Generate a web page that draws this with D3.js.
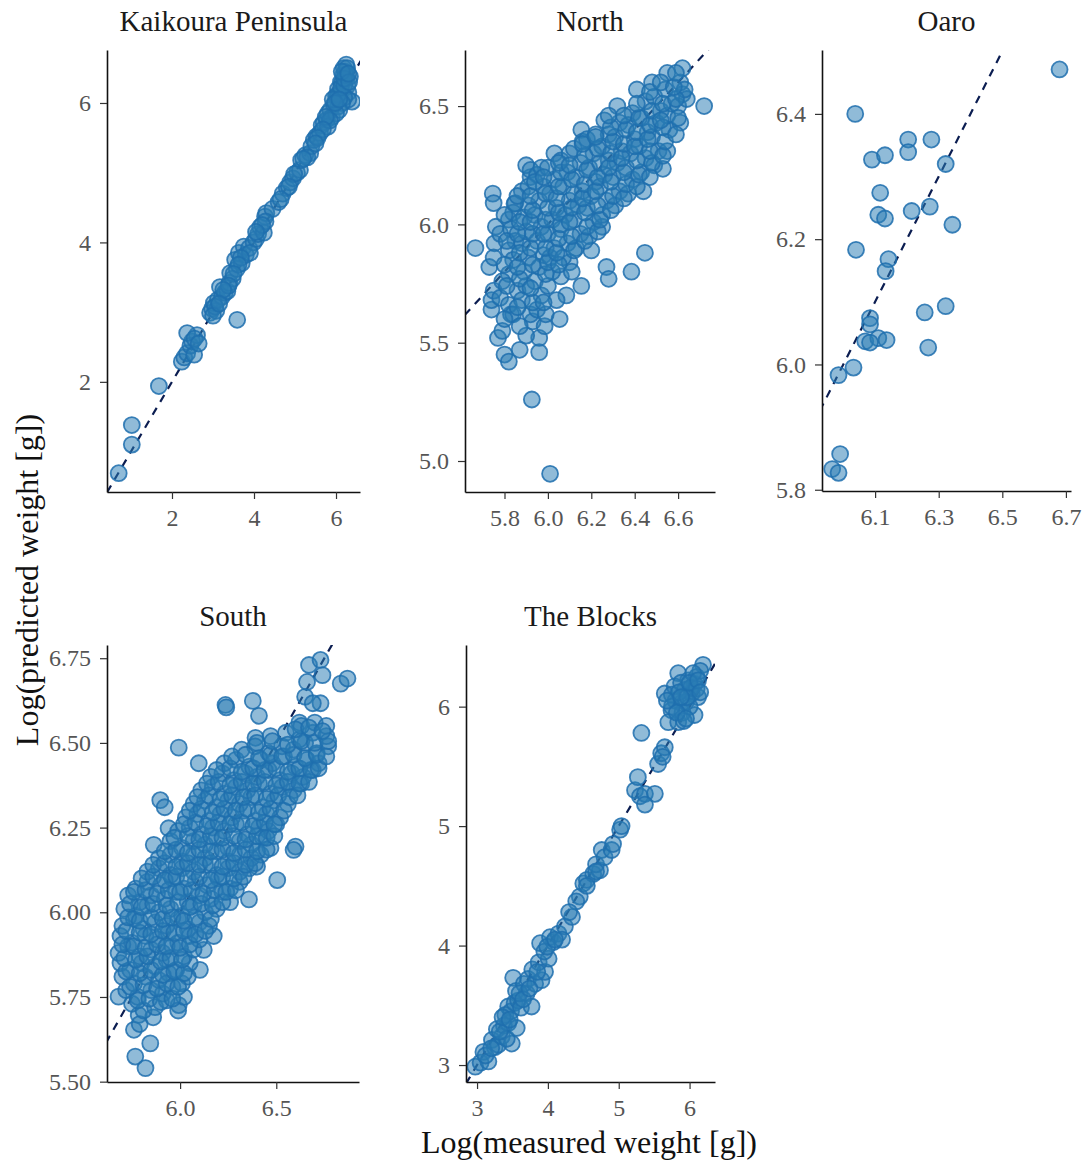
<!DOCTYPE html>
<html>
<head>
<meta charset="utf-8">
<script src="https://cdn.jsdelivr.net/npm/d3@7"></script>
<style>
body { margin: 0; background: #fff; }
text { font-family: "Liberation Serif", "Times New Roman", serif; }
</style>
</head>
<body>
<div id="chart"></div>
<script>
// facet names
var panelNames = ["Kaikoura Peninsula", "North", "Oaro", "South", "The Blocks"];

// [log measured, log predicted]
var kaikouraPts = [
  [0.70,0.69],[1.02,1.10],[1.02,1.38],[1.68,1.94],[2.24,2.29],[2.30,2.35],[2.37,2.41],[2.45,2.52],
  [2.49,2.58],[2.61,2.67],[2.37,2.70],[2.54,2.39],[2.55,2.62],[2.65,2.55],[2.93,2.99],[2.98,3.05],
  [3.02,3.13],[3.08,3.02],[3.12,3.18],[3.17,3.36],[3.22,3.22],[3.29,3.28],[3.35,3.30],[3.40,3.42],
  [3.42,3.56],[3.48,3.48],[3.59,2.89],[3.54,3.75],[3.58,3.62],[3.63,3.85],[3.70,3.70],[3.75,3.94],
  [3.80,3.82],[3.88,3.92],[3.99,4.00],[4.05,4.05],[4.10,4.12],[4.15,4.22],[4.24,4.14],[4.27,4.37],
  [4.30,4.42],[4.45,4.48],[4.60,4.58],[4.70,4.70],[4.80,4.78],[4.88,4.86],[4.95,4.92],[5.05,5.00],
  [5.12,5.04],[5.15,5.18],[5.25,5.25],[5.37,5.28],[5.40,5.38],[5.46,5.47],[5.52,5.52],[5.61,5.57],
  [5.65,5.68],[5.70,5.72],[5.78,5.76],[5.80,5.85],[5.86,5.90],[5.90,5.80],[5.95,5.98],[6.00,6.10],
  [6.03,6.07],[6.05,5.95],[5.80,5.66],[6.05,6.20],[6.10,6.15],[6.12,6.30],[6.15,6.29],[6.18,6.40],
  [6.19,6.50],[6.22,6.45],[6.25,6.35],[6.28,6.25],[6.30,6.15],[6.34,6.38],[6.39,6.02],[6.30,6.05],
  [6.20,6.08],[6.15,6.00],[6.08,5.90],[6.00,5.85],[6.25,6.55],
  [6.05,6.12],[6.12,6.22],[6.20,6.25],[6.24,6.40],[6.27,6.50],[6.20,6.35],[6.14,6.45],[6.32,6.30],
  [6.30,6.42],[5.92,6.05],[5.98,6.00],[6.08,6.05],[5.85,5.75],[5.75,5.80],[5.68,5.62],[5.55,5.50],
  [5.50,5.42],[5.30,5.22],[5.20,5.20],[4.98,4.98],[4.85,4.80],[4.65,4.62],[4.28,4.30],[4.20,4.25],
  [4.05,4.15],[3.90,3.85],[3.68,3.78],[3.62,3.68],[3.50,3.55],[3.38,3.38],[3.25,3.32],[3.05,3.08],
  [3.00,2.95],[3.15,3.12]
];

var northPts = [
  [5.666,5.90],[5.926,5.26],[6.01,4.946],[6.72,6.50],[6.27,5.82],[6.28,5.77],[6.385,5.80],[6.447,5.88],
  [6.154,5.74],[6.085,5.70],[6.054,5.60],[6.04,5.68],[6.10,5.84],[6.06,5.78],[6.20,5.89],[6.25,5.99],
  [5.77,5.52],[5.80,5.45],[5.82,5.42],[5.87,5.47],[5.96,5.46],[5.96,5.52],[5.93,5.59],[5.985,5.57],
  [5.92,5.62],[5.83,5.62],[5.74,5.64],[5.74,5.68],[5.75,5.72],[5.73,5.82],[5.82,5.79],[5.79,5.55],
  [5.90,5.53],[5.746,6.13],[5.75,6.09],[5.754,5.92],[5.76,5.99],[5.75,5.86],[5.78,5.96],[5.79,5.76],
  [5.78,5.69],[5.82,6.02],[5.85,6.09],[5.84,6.05],[5.83,5.98],[5.85,5.93],[5.82,5.89],[5.84,5.85],
  [5.86,5.72],[5.82,5.66],[5.84,5.62],[5.88,5.68],[5.90,5.74],[5.89,5.80],[5.91,5.86],[5.88,5.92],
  [5.90,5.97],[5.89,6.03],[5.91,6.08],[5.88,6.14],[5.92,6.20],[5.90,6.25],[5.92,6.23],[5.95,5.64],
  [5.97,5.70],[5.94,5.76],[5.96,5.82],[5.98,5.87],[5.95,5.93],[5.97,5.99],[5.94,6.04],[5.96,6.10],
  [5.98,6.16],[5.95,6.21],[5.97,6.24],[6.00,5.74],[6.02,5.80],[6.01,5.86],[6.03,5.90],[6.00,5.96],
  [6.02,6.02],[6.04,6.07],[6.01,6.13],[6.03,6.19],[6.00,6.24],[6.03,6.30],[6.07,5.86],[6.09,5.92],
  [6.06,5.98],[6.08,6.04],[6.10,6.10],[6.07,6.16],[6.09,6.22],[6.06,6.27],[6.10,6.30],[6.13,5.90],
  [6.15,5.96],[6.12,6.02],[6.14,6.08],[6.16,6.14],[6.13,6.20],[6.15,6.26],[6.12,6.32],[6.154,6.40],
  [6.16,6.35],[6.19,5.95],[6.21,6.01],[6.18,6.07],[6.20,6.12],[6.22,6.18],[6.19,6.24],[6.21,6.30],
  [6.18,6.36],[6.22,6.38],[6.25,6.04],[6.27,6.10],[6.24,6.16],[6.26,6.21],[6.28,6.27],[6.25,6.33],
  [6.26,6.44],[6.28,6.38],[6.31,6.08],[6.33,6.14],[6.30,6.20],[6.32,6.26],[6.34,6.31],[6.31,6.37],
  [6.33,6.43],[6.32,6.50],[6.37,6.13],[6.39,6.19],[6.36,6.24],[6.38,6.30],[6.40,6.36],[6.37,6.42],
  [6.39,6.47],[6.44,6.14],[6.43,6.22],[6.45,6.28],[6.42,6.33],[6.46,6.39],[6.43,6.45],[6.41,6.57],
  [6.45,6.52],[6.49,6.25],[6.51,6.31],[6.48,6.37],[6.50,6.43],[6.52,6.48],[6.49,6.54],[6.48,6.60],
  [6.53,6.235],[6.55,6.31],[6.56,6.40],[6.55,6.46],[6.57,6.51],[6.54,6.57],[6.55,6.64],[6.61,6.43],
  [6.60,6.50],[6.62,6.55],[6.61,6.60],[6.62,6.66],[6.64,6.53],[6.63,6.57],[5.846,6.087],[5.91,6.16],
  [5.80,5.60],[5.81,5.74],[5.80,5.83],[5.81,5.93],[5.80,6.04],[5.87,5.57],[5.86,5.65],[5.87,5.77],
  [5.86,5.82],[5.87,5.88],[5.86,5.96],[5.87,6.01],[5.86,6.12],[5.93,5.67],[5.92,5.73],[5.93,5.83],
  [5.92,5.90],[5.93,5.96],[5.92,6.01],[5.93,6.06],[5.92,6.12],[5.94,6.18],[5.99,5.62],[5.98,5.67],
  [5.99,5.79],[6.00,5.84],[5.99,5.90],[5.98,5.96],[5.99,6.02],[6.00,6.07],[5.99,6.13],[5.98,6.20],
  [6.05,5.83],[6.04,5.88],[6.05,5.94],[6.06,6.00],[6.05,6.05],[6.04,6.11],[6.05,6.16],[6.06,6.22],
  [6.05,6.26],[6.11,5.80],[6.12,5.89],[6.11,5.95],[6.10,6.01],[6.11,6.07],[6.12,6.13],[6.11,6.19],
  [6.10,6.25],[6.17,5.93],[6.18,5.99],[6.17,6.05],[6.16,6.11],[6.17,6.17],[6.18,6.23],[6.17,6.29],
  [6.16,6.34],[6.23,5.97],[6.24,6.02],[6.23,6.08],[6.22,6.14],[6.23,6.20],[6.24,6.26],[6.23,6.32],
  [6.22,6.37],[6.29,6.06],[6.30,6.12],[6.29,6.18],[6.28,6.24],[6.29,6.30],[6.30,6.35],[6.29,6.41],
  [6.28,6.46],[6.35,6.11],[6.36,6.17],[6.35,6.22],[6.34,6.28],[6.35,6.34],[6.36,6.40],[6.35,6.46],
  [6.41,6.16],[6.42,6.21],[6.41,6.27],[6.40,6.33],[6.41,6.39],[6.42,6.45],[6.41,6.51],[6.47,6.20],
  [6.48,6.26],[6.47,6.31],[6.46,6.36],[6.47,6.42],[6.48,6.48],[6.47,6.56],[6.53,6.29],[6.54,6.35],
  [6.53,6.41],[6.52,6.44],[6.53,6.51],[6.52,6.60],[6.59,6.38],[6.60,6.45],[6.59,6.53],[6.58,6.58],
  [6.59,6.64]
];

var oaroPts = [
  [6.0375,6.40],[6.09,6.327],[6.131,6.334],[6.204,6.359],[6.204,6.339],[6.277,6.359],[6.322,6.32],
  [6.116,6.274],[6.11,6.239],[6.131,6.233],[6.215,6.245],[6.272,6.252],[6.343,6.223],[6.04,6.183],
  [6.142,6.168],[6.133,6.149],[6.084,6.074],[6.084,6.064],[6.069,6.037],[6.11,6.042],[6.136,6.039],
  [6.084,6.035],[6.256,6.083],[6.322,6.093],[6.267,6.027],[6.032,5.995],[5.985,5.983],[5.99,5.857],
  [5.965,5.833],[5.985,5.827],[6.68,6.471]
];

var southPts = [
  [6.67,6.73],[6.73,6.745],[6.74,6.70],[6.66,6.68],[6.835,6.675],[6.87,6.69],[6.65,6.636],[6.73,6.617],
  [6.69,6.617],[6.236,6.612],[6.24,6.605],[6.378,6.624],[6.41,6.58],[5.993,6.486],[6.097,6.44],
  [6.392,6.515],[5.897,6.331],[5.92,6.31],[5.94,6.248],[5.863,6.199],[6.60,6.194],[6.62,6.56],
  [6.505,6.095],[6.358,6.038],[6.103,5.83],[5.68,5.751],[5.845,5.613],[5.767,5.574],[5.82,5.54],
  [5.993,5.726],[5.76,5.653],[5.785,5.697],[6.175,5.93],[6.123,5.889],[6.40,6.135],[6.59,6.184],
  [5.79,5.67],[5.86,5.69],
  [5.75,5.73],[5.81,5.71],[5.87,5.72],[5.93,5.74],[5.99,5.71],
  [5.72,5.77],[5.78,5.75],[5.85,5.77],[5.91,5.76],[5.96,5.78],[6.02,5.75],
  [5.70,5.81],[5.76,5.79],[5.82,5.81],[5.89,5.80],[5.94,5.82],[6.01,5.79],[6.04,5.81],
  [5.69,5.85],[5.74,5.83],[5.80,5.85],[5.87,5.84],[5.93,5.86],[5.98,5.83],[6.05,5.85],
  [5.68,5.88],[5.73,5.90],[5.79,5.87],[5.85,5.89],[5.91,5.88],[5.96,5.90],[6.02,5.87],[6.07,5.89],
  [5.69,5.93],[5.75,5.91],[5.82,5.93],[5.88,5.92],[5.94,5.94],[5.99,5.91],[6.05,5.93],[6.10,5.92],
  [5.70,5.96],[5.76,5.98],[5.81,5.95],[5.87,5.97],[5.93,5.96],[5.99,5.98],[6.04,5.95],[6.10,5.97],[6.15,5.96],
  [5.71,6.01],[5.77,5.99],[5.83,6.02],[5.89,6.00],[5.95,6.01],[6.01,5.99],[6.07,6.02],[6.13,6.00],[6.19,6.01],
  [5.73,6.05],[5.79,6.03],[5.85,6.05],[5.92,6.04],[5.98,6.06],[6.04,6.03],[6.10,6.05],[6.16,6.04],[6.22,6.06],[6.26,6.03],
  [5.77,6.07],[5.83,6.09],[5.90,6.08],[5.96,6.10],[6.02,6.07],[6.08,6.09],[6.14,6.08],[6.20,6.10],[6.26,6.07],[6.31,6.09],
  [5.83,6.12],[5.89,6.13],[5.95,6.11],[6.01,6.13],[6.07,6.12],[6.13,6.14],[6.19,6.11],[6.25,6.13],[6.31,6.12],[6.36,6.13],
  [5.89,6.16],[5.95,6.17],[6.01,6.15],[6.07,6.17],[6.13,6.16],[6.19,6.18],[6.25,6.15],[6.31,6.17],[6.37,6.16],[6.42,6.17],
  [5.95,6.21],[6.01,6.19],[6.07,6.21],[6.13,6.20],[6.19,6.22],[6.25,6.19],[6.31,6.21],[6.37,6.20],[6.43,6.22],[6.47,6.19],
  [5.99,6.24],[6.05,6.25],[6.11,6.23],[6.17,6.25],[6.23,6.24],[6.29,6.26],[6.35,6.23],[6.41,6.25],[6.46,6.24],[6.50,6.26],
  [6.03,6.28],[6.09,6.29],[6.15,6.27],[6.21,6.29],[6.27,6.28],[6.33,6.30],[6.39,6.27],[6.45,6.29],[6.52,6.28],
  [6.07,6.32],[6.13,6.33],[6.19,6.31],[6.25,6.33],[6.31,6.32],[6.37,6.34],[6.43,6.31],[6.49,6.33],[6.56,6.32],
  [6.11,6.36],[6.17,6.37],[6.23,6.35],[6.29,6.37],[6.35,6.36],[6.41,6.38],[6.47,6.35],[6.53,6.37],[6.59,6.36],[6.63,6.38],
  [6.16,6.40],[6.22,6.41],[6.28,6.39],[6.34,6.41],[6.40,6.40],[6.46,6.42],[6.52,6.39],[6.58,6.41],[6.64,6.40],[6.69,6.42],
  [6.23,6.44],[6.29,6.45],[6.36,6.43],[6.42,6.45],[6.48,6.44],[6.54,6.46],[6.60,6.43],[6.66,6.45],[6.72,6.44],
  [6.32,6.48],[6.39,6.49],[6.46,6.47],[6.53,6.49],[6.59,6.48],[6.65,6.50],[6.71,6.47],[6.77,6.49],
  [6.47,6.52],[6.55,6.53],[6.62,6.51],[6.69,6.53],[6.76,6.52],
  [6.63,6.55],[6.70,6.56],[6.76,6.55],
  [5.78,5.74],[5.84,5.745],[5.90,5.735],[5.96,5.745],
  [5.74,5.78],[5.81,5.785],[5.88,5.775],[5.93,5.79],[5.99,5.78],
  [5.72,5.825],[5.79,5.82],[5.85,5.83],[5.91,5.815],[5.97,5.825],[6.02,5.82],
  [5.71,5.865],[5.77,5.86],[5.83,5.87],[5.90,5.855],[5.95,5.865],[6.01,5.86],
  [5.70,5.905],[5.76,5.90],[5.82,5.895],[5.88,5.905],[5.93,5.90],[6.00,5.895],[6.05,5.905],
  [5.72,5.945],[5.79,5.94],[5.85,5.935],[5.91,5.945],[5.97,5.94],[6.02,5.945],[6.08,5.935],[6.13,5.945],
  [5.73,5.985],[5.79,5.975],[5.85,5.985],[5.91,5.98],[5.96,5.985],[6.02,5.975],[6.08,5.985],[6.16,5.98],
  [5.74,6.025],[5.80,6.015],[5.86,6.025],[5.93,6.02],[5.99,6.03],[6.05,6.015],[6.11,6.025],[6.17,6.02],[6.22,6.03],
  [5.76,6.06],[5.82,6.065],[5.88,6.055],[5.94,6.065],[6.00,6.06],[6.06,6.065],[6.12,6.055],[6.18,6.065],[6.24,6.06],[6.29,6.065],
  [5.80,6.10],[5.86,6.105],[5.92,6.095],[5.98,6.105],[6.04,6.10],[6.10,6.105],[6.16,6.095],[6.22,6.105],[6.28,6.10],[6.33,6.105],
  [5.86,6.14],[5.92,6.145],[5.98,6.135],[6.04,6.145],[6.10,6.14],[6.16,6.145],[6.22,6.135],[6.28,6.145],[6.34,6.14],[6.39,6.145],
  [5.92,6.18],[5.98,6.185],[6.04,6.175],[6.10,6.185],[6.16,6.18],[6.22,6.185],[6.28,6.175],[6.34,6.185],[6.40,6.18],[6.45,6.185],
  [5.97,6.22],[6.04,6.225],[6.10,6.215],[6.16,6.225],[6.22,6.22],[6.28,6.225],[6.34,6.215],[6.40,6.225],[6.45,6.22],[6.49,6.225],
  [6.02,6.26],[6.08,6.265],[6.14,6.255],[6.20,6.265],[6.26,6.26],[6.32,6.265],[6.38,6.255],[6.44,6.265],[6.49,6.26],
  [6.05,6.30],[6.11,6.305],[6.17,6.295],[6.23,6.305],[6.29,6.30],[6.35,6.305],[6.41,6.295],[6.47,6.305],[6.54,6.30],
  [6.09,6.34],[6.15,6.345],[6.21,6.335],[6.27,6.345],[6.33,6.34],[6.39,6.345],[6.45,6.335],[6.51,6.345],[6.57,6.34],[6.61,6.345],
  [6.14,6.38],[6.20,6.385],[6.26,6.375],[6.32,6.385],[6.38,6.38],[6.44,6.385],[6.50,6.375],[6.56,6.385],[6.62,6.38],[6.67,6.385],
  [6.19,6.42],[6.26,6.425],[6.32,6.415],[6.38,6.425],[6.44,6.42],[6.50,6.425],[6.56,6.415],[6.62,6.425],[6.68,6.42],[6.72,6.425],
  [6.27,6.46],[6.34,6.465],[6.41,6.455],[6.47,6.465],[6.53,6.46],[6.59,6.465],[6.65,6.455],[6.71,6.465],[6.76,6.46],
  [6.40,6.50],[6.48,6.505],[6.56,6.495],[6.63,6.505],[6.70,6.50],[6.77,6.505],
  [6.60,6.54],[6.67,6.545],[6.74,6.535]
];

var blocksPts = [
  [2.975,2.986],[3.05,3.02],[3.09,3.11],[3.16,3.03],[3.21,3.21],[3.25,3.15],[3.30,3.17],[3.35,3.24],
  [3.28,3.30],[3.38,3.33],[3.44,3.35],[3.49,3.18],[3.42,3.22],[3.56,3.31],[3.44,3.49],[3.40,3.42],
  [3.48,3.45],[3.51,3.73],[3.53,3.52],[3.58,3.54],[3.55,3.62],[3.62,3.48],[3.70,3.60],[3.77,3.49],
  [3.66,3.68],[3.72,3.72],[3.82,3.68],[3.78,3.80],[3.91,3.71],[3.96,3.78],[3.87,3.86],[4.01,3.89],
  [3.89,4.02],[3.95,3.95],[4.08,4.03],[4.03,4.07],[4.15,4.10],[4.24,4.16],[4.20,4.05],[4.34,4.24],
  [4.45,4.41],[4.40,4.37],[4.50,4.52],[4.55,4.55],[4.64,4.60],[4.735,4.63],[4.68,4.68],[4.76,4.80],
  [4.80,4.74],[4.90,4.80],[5.02,4.97],[5.04,5.00],[5.23,5.30],[5.27,5.41],[5.30,5.25],[5.37,5.27],
  [5.51,5.27],[5.37,5.18],[5.32,5.78],[5.556,5.52],[5.60,5.61],[5.65,5.66],[5.62,5.58],[5.65,6.11],
  [5.745,5.97],[5.70,5.87],[5.84,5.87],[5.885,6.03],[5.84,6.28],[5.98,6.22],[6.07,6.19],[6.19,6.35],
  [6.07,5.93],[6.12,6.08],[6.03,6.11],[5.79,6.17],[5.93,6.14],[5.80,6.05],[5.90,5.95],[5.95,6.04],
  [6.00,6.00],[6.10,6.25],[6.15,6.30],[5.88,6.20],[6.05,6.28],[5.75,6.10],[5.85,6.12],[6.02,6.16],
  [5.92,5.88],[6.10,6.15],
  [5.75,6.00],[5.82,5.95],[5.97,6.08],[6.00,6.20],[6.12,6.22],[6.15,6.12],[5.68,6.05],[5.95,5.90],
  [5.88,6.08],[3.12,3.08],[3.20,3.14],[3.32,3.28],[3.36,3.40],[3.46,3.38],[3.60,3.60],[3.65,3.55],
  [3.74,3.64],[3.85,3.78],[3.99,3.99],[4.10,4.05],[4.30,4.28],[4.55,4.50],[4.68,4.62],[4.92,4.85]
];

// tick values per facet
var kaikouraXTicks = [2, 4, 6], kaikouraYTicks = [2, 4, 6];
var northXTicks = [5.8, 6.0, 6.2, 6.4, 6.6], northYTicks = [5.0, 5.5, 6.0, 6.5];
var oaroXTicks = [6.1, 6.3, 6.5, 6.7], oaroYTicks = [5.8, 6.0, 6.2, 6.4];
var southXTicks = [6.0, 6.5], southYTicks = [5.50, 5.75, 6.00, 6.25, 6.50, 6.75];
var blocksXTicks = [3, 4, 5, 6], blocksYTicks = [3, 4, 5, 6];

var width = 1087, height = 1167;

var panels = [
  {name: panelNames[0], pts: kaikouraPts, xd: [0.415, 6.585], yd: [0.42, 6.76], xt: kaikouraXTicks, yt: kaikouraYTicks, fx: "d", fy: "d", box: [107, 50, 360, 492]},
  {name: panelNames[1], pts: northPts, xd: [5.618, 6.77], yd: [4.869, 6.737], xt: northXTicks, yt: northYTicks, fx: ".1f", fy: ".1f", box: [465, 50, 715, 492]},
  {name: panelNames[2], pts: oaroPts, xd: [5.933, 6.716], yd: [5.798, 6.502], xt: oaroXTicks, yt: oaroYTicks, fx: ".1f", fy: ".1f", box: [822, 50, 1071, 491]},
  {name: panelNames[3], pts: southPts, xd: [5.62, 6.93], yd: [5.499, 6.789], xt: southXTicks, yt: southYTicks, fx: ".1f", fy: ".2f", box: [107, 645, 359, 1082]},
  {name: panelNames[4], pts: blocksPts, xd: [2.844, 6.359], yd: [2.858, 6.516], xt: blocksXTicks, yt: blocksYTicks, fx: "d", fy: "d", box: [466, 645, 715, 1082]}
];

var svg = d3.select("#chart")
  .append("svg")
  .attr("width", width)
  .attr("height", height)
  .style("background", "#fff");

panels.forEach(function(p, i) {
  var x0 = p.box[0], y0 = p.box[1], x1 = p.box[2], y1 = p.box[3];
  var x = d3.scaleLinear().domain(p.xd).range([x0, x1]);
  var y = d3.scaleLinear().domain(p.yd).range([y1, y0]);

  var g = svg.append("g");

  svg.append("clipPath").attr("id", "clip" + i)
    .append("rect").attr("x", x0).attr("y", y0).attr("width", x1 - x0).attr("height", y1 - y0);

  var inner = g.append("g").attr("clip-path", "url(#clip" + i + ")");

  // 1:1 reference line
  var lo = Math.min(p.xd[0], p.yd[0]), hi = Math.max(p.xd[1], p.yd[1]);
  inner.append("line")
    .attr("x1", x(lo)).attr("y1", y(lo))
    .attr("x2", x(hi)).attr("y2", y(hi))
    .attr("stroke", "#0b1d51")
    .attr("stroke-width", 2.2)
    .attr("stroke-dasharray", "8,7");

  inner.selectAll("circle")
    .data(p.pts)
    .join("circle")
    .attr("cx", d => x(d[0]))
    .attr("cy", d => y(d[1]))
    .attr("r", 8)
    .attr("fill", "#2a7db5")
    .attr("fill-opacity", 0.52)
    .attr("stroke", "#1f6fae")
    .attr("stroke-opacity", 0.85)
    .attr("stroke-width", 1.8);

  var xAxis = g.append("g")
    .attr("transform", "translate(0," + y1 + ")")
    .call(d3.axisBottom(x).tickValues(p.xt).tickFormat(d3.format(p.fx)).tickSize(7).tickSizeOuter(0).tickPadding(10));
  var yAxis = g.append("g")
    .attr("transform", "translate(" + x0 + ",0)")
    .call(d3.axisLeft(y).tickValues(p.yt).tickFormat(d3.format(p.fy)).tickSize(7).tickSizeOuter(0).tickPadding(9));

  [xAxis, yAxis].forEach(function(a) {
    a.select(".domain").attr("stroke", "#111").attr("stroke-width", 1.6);
    a.selectAll(".tick line").attr("stroke", "#333").attr("stroke-width", 1.2);
    a.selectAll(".tick text").attr("fill", "#555").style("font-size", "24px")
      .style("font-family", "'Liberation Serif', 'Times New Roman', serif");
  });

  g.append("text")
    .attr("x", (x0 + x1) / 2)
    .attr("y", y0 - 19)
    .attr("text-anchor", "middle")
    .attr("fill", "#1a1a1a")
    .style("font-size", "29px")
    .text(p.name);
});

svg.append("text")
  .attr("transform", "translate(38,580) rotate(-90)")
  .attr("text-anchor", "middle")
  .attr("fill", "#111")
  .style("font-size", "32px")
  .text("Log(predicted weight [g])");

svg.append("text")
  .attr("x", 589)
  .attr("y", 1153)
  .attr("text-anchor", "middle")
  .attr("fill", "#111")
  .style("font-size", "32px")
  .text("Log(measured weight [g])");
</script>
</body>
</html>
